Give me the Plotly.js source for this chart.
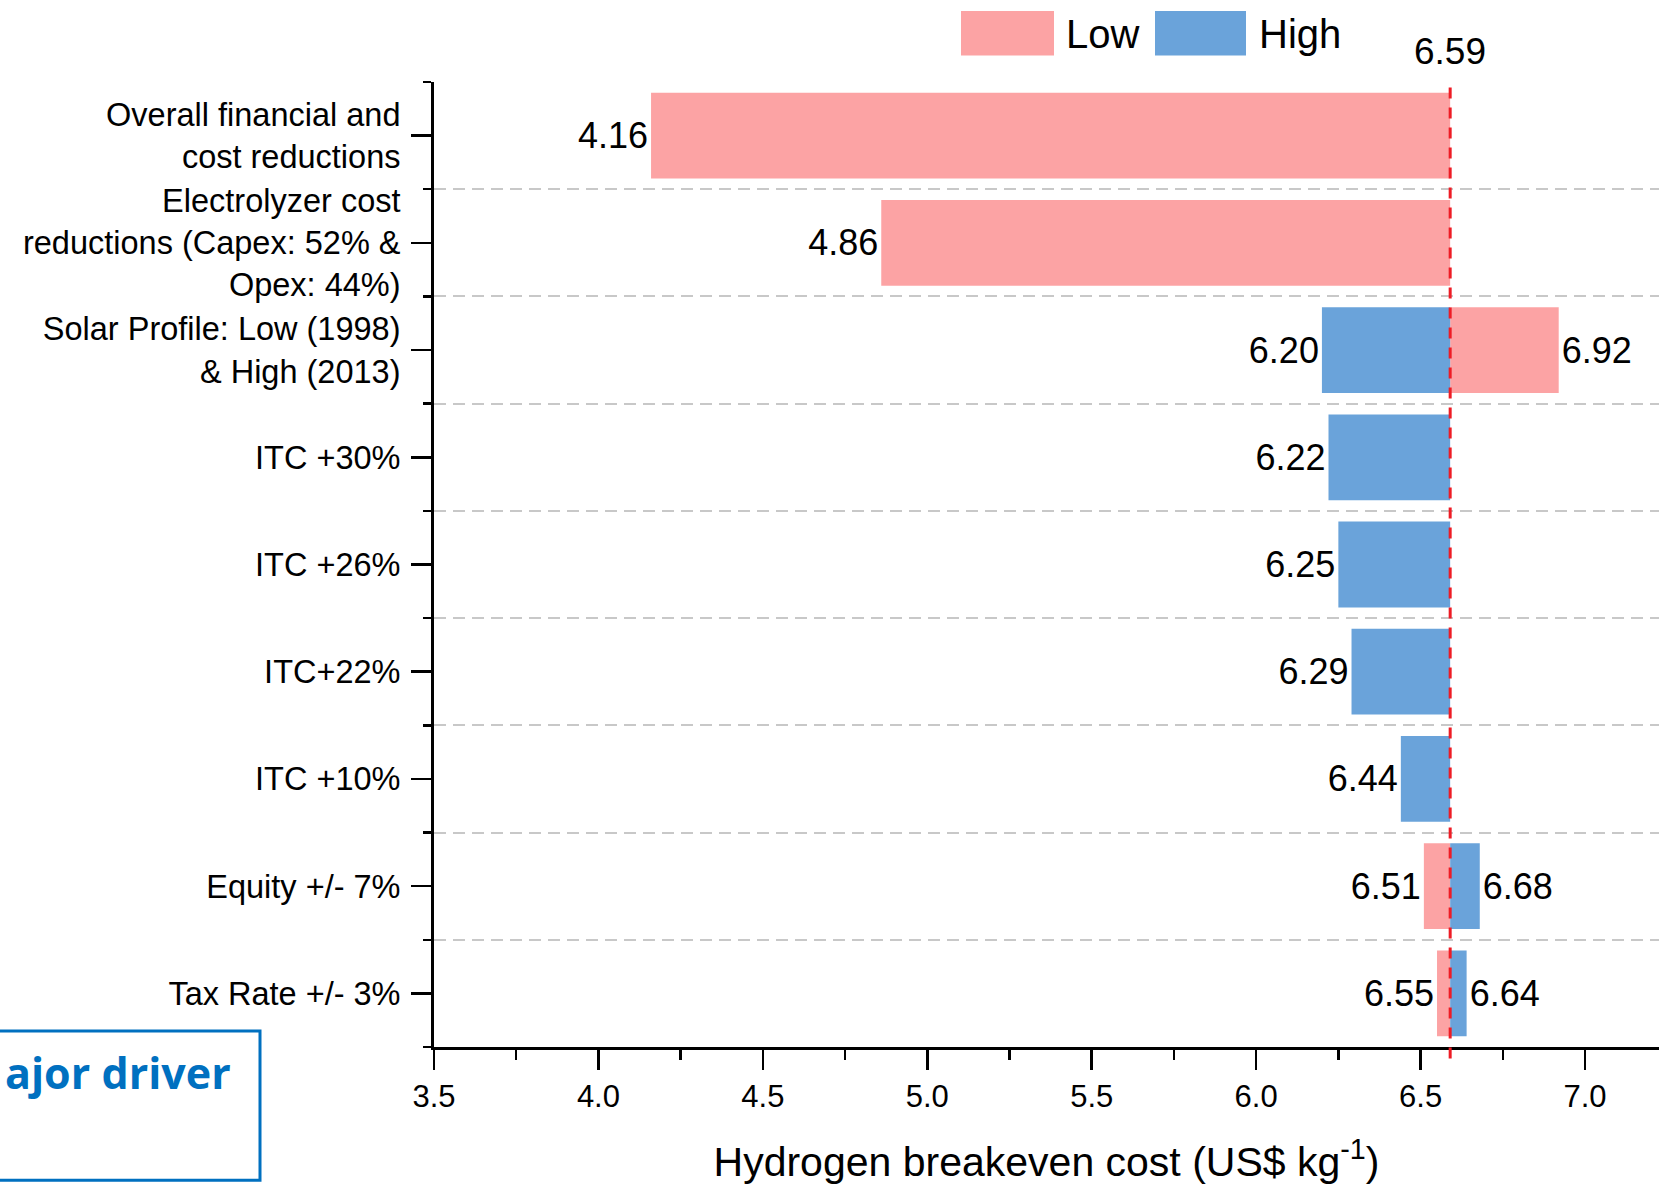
<!DOCTYPE html>
<html>
<head>
<meta charset="utf-8">
<script src="https://cdn.plot.ly/plotly-3.0.1.min.js"></script>
<style>html,body{margin:0;padding:0;background:#fff;}#chart{width:1659px;height:1185px;}</style>
</head>
<body>
<div id="chart"></div>
<script>
// ---- data ----
const categories = [
  "Overall financial and<br>cost reductions",
  "Electrolyzer cost<br>reductions (Capex: 52% &<br>Opex: 44%)",
  "Solar Profile: Low (1998)<br>& High (2013)",
  "ITC +30%",
  "ITC +26%",
  "ITC+22%",
  "ITC +10%",
  "Equity +/- 7%",
  "Tax Rate +/- 3%"
];
const baseline = 6.59;
const lowValues  = [4.16, 4.86, 6.92, null, null, null, null, 6.51, 6.55];
const highValues = [null, null, 6.20, 6.22, 6.25, 6.29, 6.44, 6.68, 6.64];
const xTickVals = [3.5, 4.0, 4.5, 5.0, 5.5, 6.0, 6.5, 7.0];
const xTickText = ["3.5", "4.0", "4.5", "5.0", "5.5", "6.0", "6.5", "7.0"];

const LOW_COLOR = "#fca3a4";
const HIGH_COLOR = "#6aa3da";
const FONT = "Liberation Sans, Arial, sans-serif";

const yPos = categories.map((_, i) => i);
function barTrace(vals, name, color) {
  const idx = vals.map((v, i) => v === null ? -1 : i).filter(i => i >= 0);
  return {
    type: "bar",
    orientation: "h",
    name: name,
    y: idx.map(i => yPos[i]),
    x: idx.map(i => vals[i] - baseline),
    base: idx.map(() => baseline),
    text: idx.map(i => vals[i].toFixed(2)),
    textposition: "outside",
    constraintext: "none",
    cliponaxis: false,
    textfont: {family: FONT, size: 36, color: "#000"},
    marker: {color: color, line: {width: 0}},
    width: 0.8,
    hoverinfo: "skip",
    showlegend: false
  };
}

// paper-coordinate helpers (plot area: x 434..1659, y 81.5..1047.5 px)
const L = 434, R = 1659, T = 81.5, B = 1047.5;
const px = v => (v - L) / (R - L);
const py = v => (B - v) / (B - T);

const data = [barTrace(lowValues, "Low", LOW_COLOR), barTrace(highValues, "High", HIGH_COLOR)];

const boundaries = [];
for (let i = 0; i <= categories.length; i++) boundaries.push(i - 0.5);

const layout = {
  width: 1659, height: 1185,
  margin: {l: L, r: 0, t: T, b: 1185 - B, pad: 0},
  paper_bgcolor: "#fff", plot_bgcolor: "#fff",
  barmode: "overlay",
  showlegend: false,
  font: {family: FONT, color: "#000"},
  xaxis: {
    range: [3.5, 7.225],
    tickvals: xTickVals, ticktext: xTickText,
    ticks: "outside", ticklen: 20, tickwidth: 2.5, tickcolor: "#000",
    tickfont: {family: FONT, size: 31, color: "#000"},
    showline: true, linewidth: 3, linecolor: "#000",
    showgrid: false, zeroline: false,
    minor: {dtick: 0.25, tick0: 3.5, ticks: "outside", ticklen: 10, tickwidth: 2.5, tickcolor: "#000", showgrid: false},
    title: {text: "Hydrogen breakeven cost (US$ kg<sup>-1</sup>)", font: {family: FONT, size: 41, color: "#000"}, standoff: 36}
  },
  yaxis: {
    range: [categories.length - 0.5, -0.5],
    tickvals: yPos, ticktext: categories,
    ticks: "outside", ticklen: 20, tickwidth: 2.5, tickcolor: "#000",
    ticklabelstandoff: 4,
    tickfont: {family: FONT, size: 32.5, color: "#000"},
    showline: true, linewidth: 3, linecolor: "#000",
    showgrid: false, zeroline: false,
    minor: {tickvals: boundaries, ticks: "outside", ticklen: 8, tickwidth: 2.5, tickcolor: "#000",
            showgrid: true, gridcolor: "#c8c8c8", gridwidth: 2, griddash: "12px,7px"}
  },
  shapes: [
    {type: "line", xref: "x", yref: "paper", x0: baseline, x1: baseline, y0: -0.012, y1: 1,
     line: {color: "#ee1c25", width: 3, dash: "11px,9px"}, layer: "above"},
    {type: "rect", xref: "paper", yref: "paper", x0: px(961), x1: px(1054), y0: py(55), y1: py(10.5),
     fillcolor: LOW_COLOR, line: {width: 0}},
    {type: "rect", xref: "paper", yref: "paper", x0: px(1155), x1: px(1246), y0: py(55), y1: py(10.5),
     fillcolor: HIGH_COLOR, line: {width: 0}},
    {type: "rect", xref: "paper", yref: "paper", x0: px(-10), x1: px(260), y0: py(1181), y1: py(1031.5),
     fillcolor: "rgba(0,0,0,0)", line: {color: "#0070c0", width: 3}}
  ],
  annotations: [
    {xref: "paper", yref: "paper", x: px(1064), y: py(33), xanchor: "left", yanchor: "middle", showarrow: false,
     text: "Low", font: {family: FONT, size: 40, color: "#000"}},
    {xref: "paper", yref: "paper", x: px(1257), y: py(33), xanchor: "left", yanchor: "middle", showarrow: false,
     text: "High", font: {family: FONT, size: 40, color: "#000"}},
    {xref: "x", yref: "paper", x: baseline, y: py(51), xanchor: "center", yanchor: "middle", showarrow: false,
     text: baseline.toFixed(2), font: {family: FONT, size: 37, color: "#000"}},
    {xref: "paper", yref: "paper", x: px(3), y: py(1073), xanchor: "left", yanchor: "middle", showarrow: false,
     text: "<b>ajor driver</b>", font: {family: "Open Sans, sans-serif", size: 43, color: "#0070c0"}}
  ]
};

Plotly.newPlot("chart", data, layout, {displayModeBar: false, staticPlot: true});
</script>
</body>
</html>
